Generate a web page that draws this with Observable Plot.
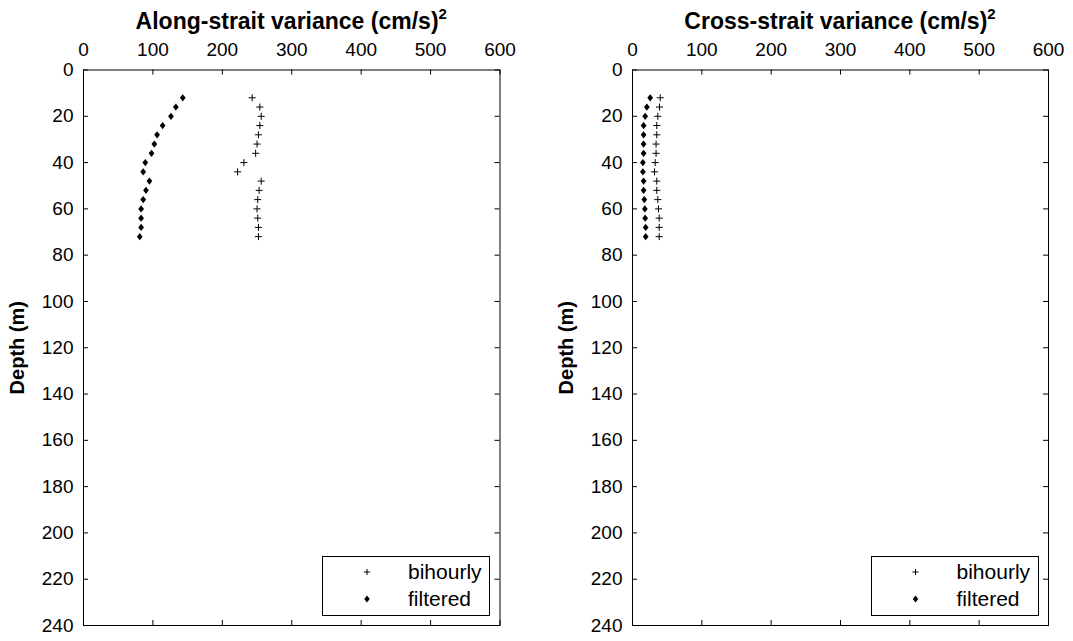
<!DOCTYPE html>
<html><head><meta charset="utf-8">
<script src="https://cdn.jsdelivr.net/npm/d3@7"></script>
<script src="https://cdn.jsdelivr.net/npm/@observablehq/plot@0.6"></script>
<style>
body{margin:0;background:#fff;font-family:"Liberation Sans",Arial,sans-serif;}
#wrap{position:relative;width:1073px;height:641px;overflow:hidden;background:#fff;}
.panel{position:absolute;top:0;}
.title{position:absolute;top:8px;font-weight:bold;font-size:23px;line-height:26px;white-space:nowrap;transform:translateX(-50%);color:#000;}
.title sup{font-size:15px;line-height:0;vertical-align:0;position:relative;top:-10px;}
</style></head><body><div id="wrap"></div>
<script>
// ---- data ----
const depths = [12, 16, 20, 24, 28, 32, 36, 40, 44, 48, 52, 56, 60, 64, 68, 72];
const alongBihourly = [243, 254, 256, 254, 252, 250, 248, 231, 222, 256, 253, 251, 250, 251, 252, 252];
const alongFiltered = [143, 133, 126, 114, 106, 102, 98, 89, 86, 95, 90, 86, 83, 83, 83, 81];
const crossBihourly = [40, 39, 36.5, 35, 35, 34, 34, 32.7, 31.7, 35, 35, 36.5, 37.5, 38.5, 38.5, 38.5];
const crossFiltered = [25.5, 20.7, 18.3, 16, 16, 16, 16, 15, 15, 16, 16, 17, 17.8, 18.3, 19, 19];
const xTicks = [0, 100, 200, 300, 400, 500, 600];
const yTicks = [0, 20, 40, 60, 80, 100, 120, 140, 160, 180, 200, 220, 240];
const seriesNames = ["bihourly", "filtered"];
const panelTitles = ["Along-strait variance (cm/s)", "Cross-strait variance (cm/s)"];
const yLabel = "Depth (m)";

// ---- layout ----
const H = 641, mT = 69.5, mB = 16;
const panels = [
  {left: 0, width: 540, mL: 83, mR: 40.5, title: panelTitles[0], bih: alongBihourly, fil: alongFiltered},
  {left: 540, width: 533, mL: 92, mR: 25, title: panelTitles[1], bih: crossBihourly, fil: crossFiltered}
];

const diamond = {
  draw(ctx, size) {
    const h = Math.sqrt(size / Math.PI);
    const w = h * 0.8;
    ctx.moveTo(0, -h); ctx.lineTo(w, 0); ctx.lineTo(0, h); ctx.lineTo(-w, 0); ctx.closePath();
  }
};

const wrap = document.getElementById("wrap");
const FS = 19;

for (const p of panels) {
  const plotW = p.width - p.mL - p.mR;
  const plotH = H - mT - mB;
  const bihData = depths.map((d, i) => ({depth: d, v: p.bih[i]}));
  const filData = depths.map((d, i) => ({depth: d, v: p.fil[i]}));
  const svg = Plot.plot({
    width: p.width, height: H,
    marginLeft: p.mL, marginRight: p.mR, marginTop: mT, marginBottom: mB,
    style: {fontFamily: "'Liberation Sans', Arial, sans-serif", color: "#000", background: "transparent"},
    x: {domain: [0, 600]},
    y: {domain: [0, 240], reverse: true},
    marks: [
      Plot.axisX({anchor: "top", ticks: xTicks, tickSize: 0, tickPadding: 14, fontSize: FS, label: null}),
      Plot.axisY({anchor: "left", ticks: yTicks, tickSize: 0, tickPadding: 10, fontSize: FS, label: null}),
      Plot.tickX(xTicks, {x: d => d, insetBottom: plotH - 5, stroke: "#000"}),
      Plot.tickX(xTicks, {x: d => d, insetTop: plotH - 5, stroke: "#000"}),
      Plot.tickY(yTicks, {y: d => d, insetRight: plotW - 5, stroke: "#000"}),
      Plot.tickY(yTicks, {y: d => d, insetLeft: plotW - 5, stroke: "#000"}),
      Plot.frame({stroke: "#000"}),
      Plot.text([yLabel], {text: d => d, frameAnchor: "left", textAnchor: "middle", dx: -66, rotate: -90, fontWeight: "bold", fontSize: 20}),
      Plot.dot(bihData, {x: "v", y: "depth", symbol: "plus", r: 2.4, stroke: "#000", strokeWidth: 1}),
      Plot.dot(filData, {x: "v", y: "depth", symbol: diamond, r: 3.6, fill: "#000", stroke: "none"})
    ]
  });
  svg.classList.add("panel");
  svg.style.left = p.left + "px";
  wrap.appendChild(svg);

  // legend
  const bw = 167, bh = 59;
  const bx = p.width - p.mR - 10.5 - bw;
  const by = H - mB - 10 - bh;
  const g = d3.select(svg).append("g").attr("text-anchor", "start");
  g.append("rect").attr("x", Math.round(bx) + 0.5).attr("y", Math.round(by) + 0.5)
    .attr("width", bw).attr("height", bh).attr("fill", "#fff").attr("stroke", "#000");
  const rows = [
    {name: seriesNames[0], sym: d3.symbolPlus, size: 14, fill: "none", stroke: "#000"},
    {name: seriesNames[1], sym: diamond, size: Math.PI * 3.4 * 3.4, fill: "#000", stroke: "none"}
  ];
  rows.forEach((r, i) => {
    const cy = by + 16 + i * 27;
    g.append("path").attr("d", d3.symbol(r.sym, r.size)())
      .attr("transform", `translate(${bx + 45},${cy})`)
      .attr("fill", r.fill).attr("stroke", r.stroke);
    g.append("text").attr("x", bx + 86).attr("y", cy).attr("dy", "0.35em")
      .attr("text-anchor", "start")
      .attr("font-size", 21).attr("fill", "#000").text(r.name);
  });

  const t = document.createElement("div");
  t.className = "title";
  t.style.left = (p.left + p.mL + plotW / 2) + "px";
  t.innerHTML = p.title + "<sup>2</sup>";
  wrap.appendChild(t);
}
</script></body></html>
